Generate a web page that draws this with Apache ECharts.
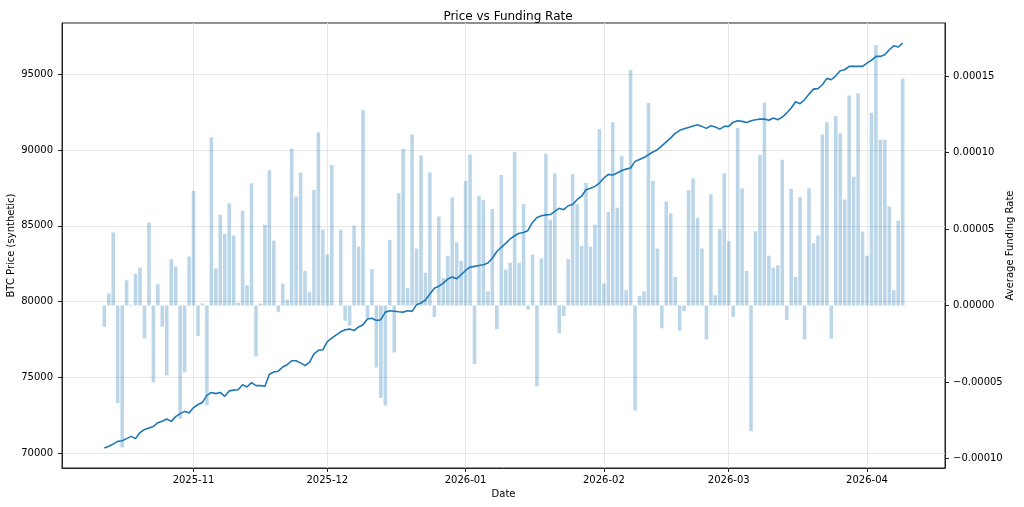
<!DOCTYPE html>
<html>
<head>
<meta charset="utf-8">
<title>Price vs Funding Rate</title>
<script src="https://cdn.jsdelivr.net/npm/echarts@6/dist/echarts.min.js"></script>
<style>
    html, body { margin: 0; padding: 0; background: #ffffff; }
    #main { width: 1024px; height: 507px; }
</style>
</head>
<body>
<div id="main"></div>
<script>
// one value per day, first day below
let startDay = [2025, 9, 12];

// average funding rate, in units of 1e-5
let fundingE5 = [
    -1.39, 0.78, 4.78, -6.37, -9.29, 1.65, 0.05, 2.08, 2.47, -2.14,
    5.43, -5.02, 1.39, -1.39, -4.57, 3.03, 2.55, -7.40, -4.37, 3.20,
    7.49, -1.99, 0.13, -6.52, 11.0, 2.42, 5.93, 4.68, 6.67, 4.57,
    0.17, 6.19, 1.32, 7.99, -3.33, 0.13, 5.28, 8.83, 4.24, -0.41,
    1.43, 0.39, 10.26, 7.12, 8.68, 2.25, 0.87, 7.56, 11.32, 4.96,
    3.33, 9.18, 0.02, 4.96, -1.0, -1.32, 5.22, 3.85, 12.77, -0.84,
    2.38, -4.05, -6.04, -6.54, 4.29, -3.07, 7.34, 10.24, 1.15, 11.17,
    3.72, 9.81, 2.14, 8.70, -0.74, 5.82, 1.80, 3.25, 7.06, 4.13,
    2.92, 8.14, 9.87, -3.83, 7.17, 6.88, 0.93, 6.30, -1.54, 8.53,
    2.34, 2.79, 10.05, 2.79, 6.62, -0.26, 3.33, -5.28, 3.07, 9.92,
    5.61, 8.62, -1.82, -0.69, 3.03, 8.57, 6.62, 3.90, 8.01, 3.85,
    5.28, 11.54, 1.43, 6.11, 11.97, 6.39, 9.76, 1.00, 15.39, -6.86,
    0.63, 0.93, 13.23, 8.14, 3.72, -1.49, 6.80, 6.02, 1.86, -1.65,
    -0.37, 7.53, 8.31, 5.72, 3.72, -2.21, 7.27, 0.67, 5.0, 8.64,
    4.20, -0.74, 11.60, 7.66, 2.25, -8.21, 4.85, 9.83, 13.27, 3.25,
    2.47, 2.62, 9.53, -0.95, 7.62, 1.86, 7.10, -2.21, 7.66, 4.07,
    4.57, 11.17, 11.97, -2.17, 12.36, 11.26, 6.93, 13.73, 8.42, 13.86,
    4.83, 3.25, 12.60, 17.02, 10.83, 10.83, 6.47, 1.00, 5.54, 14.83
];

// BTC price (synthetic)
let btcPrice = [
    70330, 70450, 70600, 70770, 70810, 70950, 71100, 70950, 71350, 71550,
    71650, 71750, 72000, 72100, 72240, 72090, 72400, 72600, 72750, 72640,
    73000, 73200, 73340, 73800, 74000, 73920, 74000, 73740, 74100, 74150,
    74180, 74500, 74360, 74650, 74450, 74460, 74400, 75200, 75350, 75400,
    75680, 75830, 76090, 76090, 75950, 75770, 75980, 76550, 76780, 76820,
    77350, 77580, 77800, 78000, 78140, 78180, 78080, 78320, 78470, 78850,
    78900, 78750, 78800, 79300, 79390, 79360, 79320, 79300, 79390, 79350,
    79780, 79900, 80100, 80500, 80880, 81000, 81220, 81480, 81620, 81500,
    81770, 82050, 82270, 82320, 82380, 82430, 82540, 82860, 83300, 83580,
    83840, 84130, 84340, 84510, 84560, 84690, 85220, 85550, 85660, 85720,
    85740, 85950, 86150, 86060, 86320, 86400, 86720, 86950, 87380, 87470,
    87600, 87820, 88150, 88390, 88350, 88480, 88650, 88740, 88810, 89250,
    89380, 89500, 89690, 89870, 90020, 90280, 90540, 90800, 91100, 91300,
    91400, 91490, 91580, 91670, 91560, 91430, 91600, 91520, 91380, 91560,
    91560, 91840, 91930, 91890, 91820, 91930, 92000, 92040, 92040, 91960,
    92110, 92000, 92170, 92440, 92770, 93190, 93060, 93320, 93690, 94020,
    94050, 94310, 94730, 94640, 94900, 95230, 95300, 95520, 95520, 95520,
    95520, 95740, 95920, 96180, 96180, 96290, 96620, 96880, 96800, 97060
];

// tick positions on the two value axes
let priceTicks = [70000, 75000, 80000, 85000, 90000, 95000];
let fundingTicks = [-0.0001, -0.00005, 0, 0.00005, 0.0001, 0.00015];

let DAY = 86400000;
let FONT = 'DejaVu Sans';

let dates = btcPrice.map(function (v, i) {
    return Date.UTC(startDay[0], startDay[1], startDay[2] + i);
});

function monthLabel(v) {
    let d = new Date(v);
    let m = d.getUTCMonth() + 1;
    return d.getUTCFullYear() + '-' + (m < 10 ? '0' + m : m);
}

function fundingLabel(v) {
    let s = Math.abs(v).toFixed(5);
    return (v < -1e-12 ? '\u2212' : '') + s;
}

let axisText = {color: '#000', fontSize: 10, fontFamily: FONT};
let darkLine = {lineStyle: {color: '#222', width: 1}};

let option = {
    useUTC: true,
    animation: false,
    backgroundColor: '#ffffff',
    textStyle: {fontFamily: FONT},
    title: {
        text: 'Price vs Funding Rate',
        left: 503,
        textAlign: 'center',
        top: 6,
        textStyle: {fontSize: 12, fontWeight: 'normal', color: '#000', fontFamily: FONT}
    },
    grid: {
        left: 62, right: 79, top: 23, bottom: 39,
        outerBoundsMode: 'none',
        containLabel: false,
        show: true, borderColor: '#222', borderWidth: 1
    },
    xAxis: {
        type: 'time',
        min: dates[0] - 9.05 * DAY,
        max: dates[dates.length - 1] + 9.05 * DAY,
        splitNumber: 7,
        minInterval: 28 * DAY,
        maxInterval: 31 * DAY,
        name: 'Date',
        nameLocation: 'middle',
        nameGap: 21,
        nameMoveOverlap: false,
        nameTextStyle: axisText,
        axisLine: {onZero: false, lineStyle: {color: '#222', width: 1}},
        axisTick: {length: 4, lineStyle: {color: '#222'}},
        axisLabel: Object.assign({margin: 7, formatter: monthLabel}, axisText),
        splitLine: {show: true, lineStyle: {color: '#e7e7e7', width: 1}}
    },
    yAxis: [{
        type: 'value',
        position: 'left',
        min: 69010,
        max: 98385,
        splitNumber: 5,
        name: 'BTC Price (synthetic)',
        nameLocation: 'middle',
        nameRotate: 90,
        nameGap: 46,
        nameMoveOverlap: false,
        nameTextStyle: axisText,
        axisLine: Object.assign({show: true}, darkLine),
        axisTick: {show: true, length: 4, customValues: priceTicks, lineStyle: {color: '#222'}},
        axisLabel: Object.assign({
            margin: 9,
            customValues: priceTicks,
            formatter: function (v) { return String(Math.round(v)); }
        }, axisText),
        splitLine: {show: true, lineStyle: {color: '#e7e7e7', width: 1}}
    }, {
        type: 'value',
        position: 'right',
        min: -0.0001062,
        max: 0.0001846,
        splitNumber: 5,
        name: 'Average Funding Rate',
        nameLocation: 'middle',
        nameRotate: 90,
        nameGap: 60,
        nameMoveOverlap: false,
        nameTextStyle: axisText,
        axisLine: Object.assign({show: true}, darkLine),
        axisTick: {show: true, length: 4, customValues: fundingTicks, lineStyle: {color: '#222'}},
        axisLabel: Object.assign({
            margin: 8,
            customValues: fundingTicks,
            formatter: fundingLabel
        }, axisText),
        splitLine: {show: false}
    }],
    series: [{
        name: 'Average Funding Rate',
        type: 'bar',
        yAxisIndex: 1,
        barWidth: '80%',
        itemStyle: {color: 'rgba(31,119,180,0.3)'},
        data: dates.map(function (d, i) { return [d, fundingE5[i] * 1e-5]; }),
        z: 1
    }, {
        name: 'BTC Price',
        type: 'line',
        yAxisIndex: 0,
        symbol: 'none',
        lineStyle: {color: '#1f77b4', width: 1.6},
        data: dates.map(function (d, i) { return [d, btcPrice[i]]; }),
        z: 3
    }]
};

let chart = echarts.init(document.getElementById('main'));
chart.setOption(option);
</script>
</body>
</html>
